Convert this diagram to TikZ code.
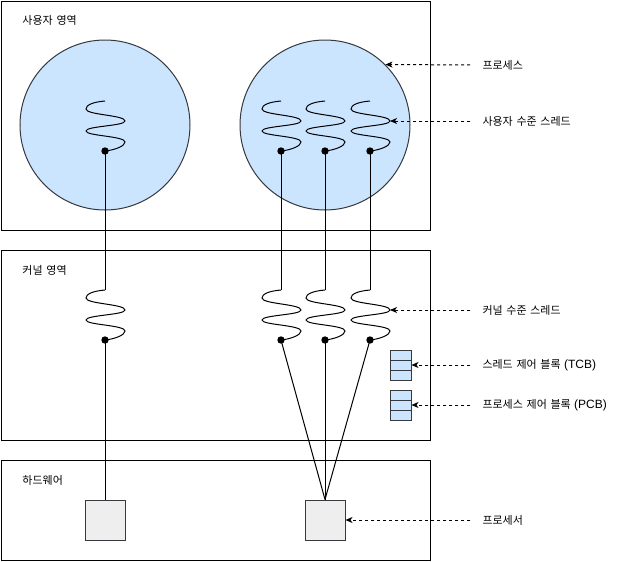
\documentclass[tikz,border=0pt]{standalone}
\usepackage{fontspec}
\setmainfont{Liberation Sans}
\newfontfamily\krfont[WordSpace=1.5]{Noto Sans CJK KR}
\newcommand\ko[1]{{\krfont\fontsize{11}{13}\selectfont #1}}
\usetikzlibrary{arrows.meta}
\definecolor{cellblue}{HTML}{CCE5FF}
\definecolor{edgegray}{HTML}{36393D}
\definecolor{cpugray}{HTML}{EEEEEE}
\tikzset{
  thread/.pic={
    \draw (0,0) .. controls (-12,1) and (-19,4) .. (-19,8)
      .. controls (-19,14) and (20,14) .. (20,20)
      .. controls (20,25) and (-19,25) .. (-19,30)
      .. controls (-19,35) and (20,35) .. (20,41)
      .. controls (20,45) and (10,49) .. (0,50);
    \fill (0,50) circle (3.7pt);
    \coordinate (-top) at (0,0);
    \coordinate (-dot) at (0,50);
    \coordinate (-ext) at (20,20);
  },
  region/.style={draw=black, line width=1pt},
  procball/.style={circle, draw=edgegray, fill=cellblue, minimum size=170pt, inner sep=0, line width=1pt},
  cpubox/.style={rectangle, draw=edgegray, fill=cpugray, minimum size=40pt, inner sep=0, line width=1pt},
  cbox/.style={rectangle, draw=edgegray, fill=cellblue, minimum width=21pt, minimum height=30pt, inner sep=0, line width=1pt,
    path picture={
      \draw[edgegray, line width=1pt] ([yshift=-10pt]path picture bounding box.north west) -- ([yshift=-10pt]path picture bounding box.north east);
      \draw[edgegray, line width=1pt] ([yshift=10pt]path picture bounding box.south west) -- ([yshift=10pt]path picture bounding box.south east);
    }},
  lbl/.style={anchor=west, inner sep=0, font=\fontsize{12}{14}\selectfont, text=black},
  dasharrow/.style={dash pattern=on 3pt off 3pt, line width=1pt, shorten <=12pt, -{Stealth[length=7pt,width=6pt,inset=2pt]}},
  wire/.style={line width=1pt}
}
\begin{document}
\begin{tikzpicture}[x=1pt,y=-1pt,line width=1pt]
\useasboundingbox (0,0) rectangle (622,562);
% regions
\draw[region] (1,1) rectangle (430,230);
\draw[region] (1,250) rectangle (430,440);
\draw[region] (1,460) rectangle (430,560);
\node[lbl] (ruser) at (22,20) {\ko{사용자 영역}};
\node[lbl] (rkern) at (22,270) {\ko{커널 영역}};
\node[lbl] (rhw) at (22,480) {\ko{하드웨어}};
% processes
\node[procball] (proc1) at (105,125) {};
\node[procball] (proc2) at (325,125) {};
% user threads
\pic (u1) at (105,101) {thread};
\pic (u2) at (281,101) {thread};
\pic (u3) at (325,101) {thread};
\pic (u4) at (370,101) {thread};
% kernel threads
\pic (k1) at (105,290) {thread};
\pic (k2) at (281,290) {thread};
\pic (k3) at (325,290) {thread};
\pic (k4) at (370,290) {thread};
% control blocks
\node[cbox] (tcb) at (400.5,365) {};
\node[cbox] (pcb) at (400.5,405) {};
% processors
\node[cpubox] (p1) at (105,520) {};
\node[cpubox] (p2) at (325,520) {};
% connectors
\draw[wire] (u1-dot) -- (k1-top);
\draw[wire] (u2-dot) -- (k2-top);
\draw[wire] (u3-dot) -- (k3-top);
\draw[wire] (u4-dot) -- (k4-top);
\draw[wire] (k1-dot) -- (p1.north);
\draw[wire] (k2-dot) -- (p2.north);
\draw[wire] (k3-dot) -- (p2.north);
\draw[wire] (k4-dot) -- (p2.north);
% labels
\node[lbl] (lproc) at (482,65) {\ko{프로세스}};
\node[lbl] (lut) at (482,121) {\ko{사용자 수준 스레드}};
\node[lbl] (lkt) at (482,310) {\ko{커널 수준 스레드}};
\node[lbl] (ltcb) at (482,365) {\ko{스레드 제어 블록} (TCB)};
\node[lbl] (lpcb) at (482,405) {\ko{프로세스 제어 블록} (PCB)};
\node[lbl] (lcpu) at (482,520) {\ko{프로세서}};
\draw[dasharrow] (lproc.west) -- (proc2.45);
\draw[dasharrow] (lut.west) -- (u4-ext);
\draw[dasharrow] (lkt.west) -- (k4-ext);
\draw[dasharrow] (ltcb.west) -- (tcb.east);
\draw[dasharrow] (lpcb.west) -- (pcb.east);
\draw[dasharrow] (lcpu.west) -- (p2.east);
\end{tikzpicture}
\end{document}
